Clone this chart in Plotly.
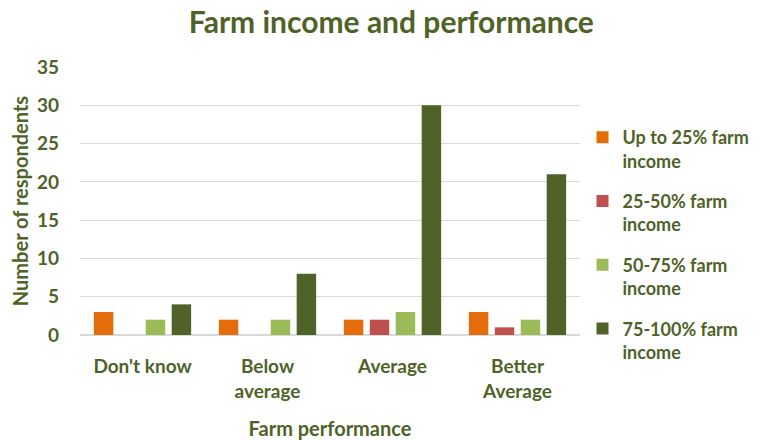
import plotly.graph_objects as go

categories = ["Don't know", "Below<br>average", "Average", "Better<br>Average"]
series_names = ["Up to 25% farm<br>income", "25-50% farm<br>income", "50-75% farm<br>income", "75-100% farm<br>income"]
up_to_25 = [3, 2, 2, 3]
p25_50 = [0, 0, 2, 1]
p50_75 = [2, 2, 3, 2]
p75_100 = [4, 8, 30, 21]
colors = ["#E46C0A", "#C0504D", "#9BBB59", "#4F6228"]
txt = "#4F6228"
font_fam = "Lato"

fig = go.Figure()
for name, vals, col in zip(series_names, [up_to_25, p25_50, p50_75, p75_100], colors):
    fig.add_trace(go.Bar(x=categories, y=vals, name=name, legendgroup=name,
                         marker_color=col, marker_line_width=0))

fig.update_layout(
    width=759, height=432,
    barmode="group", bargap=0.17, bargroupgap=0.25,
    plot_bgcolor="white", paper_bgcolor="white",
    margin=dict(l=72, r=187, t=59, b=105),
    font=dict(family=font_fam, color=txt),
    title=dict(text="<b>Farm income and performance</b>", x=0.505, xanchor="center",
               yref="container", y=0.967, yanchor="middle",
               font=dict(size=30, color=txt, family=font_fam)),
    legend=dict(x=1.005, xanchor="left", y=0.806, yanchor="top", valign="top",
                font=dict(size=18, color=txt, family=font_fam, weight="bold"),
                tracegroupgap=14, itemwidth=30, traceorder="grouped"),
    xaxis=dict(title=dict(text="<b>Farm performance</b>", font=dict(size=20, color=txt), standoff=22),
               tickfont=dict(size=19, color=txt, weight="bold"), showline=True, linecolor="#D9D9D9",
               ticks="", ticklabelstandoff=14, automargin=False),
    yaxis=dict(title=dict(text="<b>Number of respondents</b>", font=dict(size=20, color=txt), standoff=14),
               range=[0, 35], dtick=5, tickfont=dict(size=19, color=txt, weight="bold"),
               gridcolor="#D9D9D9", zeroline=True, zerolinecolor="#D9D9D9", ticks="",
               ticklabelstandoff=20, automargin=False),
)
fig.write_html("out.html")
